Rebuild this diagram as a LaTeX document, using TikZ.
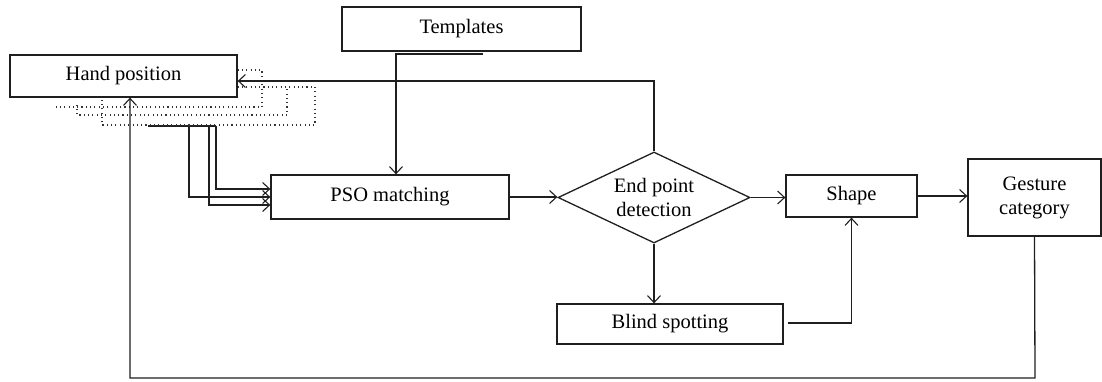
\documentclass[tikz,border=0pt]{standalone}
\usepackage{fontspec}
\setmainfont{Liberation Serif}
\usetikzlibrary{arrows.meta,shapes.geometric}
\begin{document}
\begin{tikzpicture}[x=1pt,y=-1pt,
  ink/.style={line width=1.3pt, draw=black!88},
  box/.style={ink, rectangle, inner sep=0pt, align=center,
    font=\fontsize{20.5}{24}\selectfont},
  decision/.style={ink, diamond, inner sep=0pt, aspect=2.11, align=center,
    font=\fontsize{20.5}{24}\selectfont},
  link/.style={ink},
  arr/.style={ink, -{Straight Barb[length=7pt,width=13pt,line width=1.1pt]}},
  dots/.style={line width=1.1pt, draw=black!80, dash pattern=on 1.1pt off 3.2pt}
]
\useasboundingbox (0,0) rectangle (1102,381);

% blocks
\node[box, minimum width=227pt, minimum height=42pt] (hand) at (123.5,76) {Hand position};
\node[box, minimum width=239pt, minimum height=44pt] (tmpl) at (461.5,29) {Templates};
\node[box, minimum width=238pt, minimum height=44pt] (pso) at (390,197) {PSO matching};
\node[decision, minimum width=192pt, minimum height=91pt] (epd) at (654,197.5) {End point\\detection};
\node[box, minimum width=131pt, minimum height=42pt] (shape) at (851.5,196) {Shape};
\node[box, minimum width=226pt, minimum height=40pt] (blind) at (670,324) {Blind spotting};
\node[box, minimum width=133pt, minimum height=77pt] (gest) at (1034.5,197.5) {Gesture\\category};

% templates feed into the matcher
\coordinate (tstart) at (483,54);
\coordinate (tbend) at (396,54);
\draw[arr] (tstart) -- (tbend) -- (tbend |- pso.north);

% hand positions split into three inputs of the matcher
\coordinate (hs) at (148,126);
\coordinate (he) at (216,126);
\coordinate (b1) at (189,126);
\coordinate (b2) at (209,126);
\coordinate (b3) at (216,126);
\draw[link] (hs) -- (he);
\draw[arr] (b1) |- (pso.west);
\draw[arr] (b2) |- ([yshift=-8pt]pso.west);
\draw[arr] (b3) |- ([yshift=8pt]pso.west);

% earlier loop paths, dotted
\draw[dots] ([yshift=6pt]hand.east) -| (262,107) -- (55,107);
\draw[dots] ([yshift=-11pt]hand.east) -| (287,115) -- (77,115) -- (77,102);
\draw[dots] ([yshift=-11pt]hand.east) -| (315,125) -- (102,125) -- (102,98);

% main flow
\draw[arr] (pso.east) -- (pso.east -| epd.west);
\draw[arr] (epd.east) -- (epd.east -| shape.west);
\draw[arr] (shape.east) -- (shape.east -| gest.west);
\draw[arr] (epd.south) -- (epd.south |- blind.north);
\draw[arr] ([xshift=4pt,yshift=1pt]blind.east) -| (shape.south);

% feedback loops to the hand position
\draw[arr] (epd.north) |- ([yshift=-5pt]hand.east);
\coordinate (low) at (1035,378);
\draw[arr] (gest.south) -- (low) -| ([xshift=6.5pt]hand.south);
\end{tikzpicture}
\end{document}
